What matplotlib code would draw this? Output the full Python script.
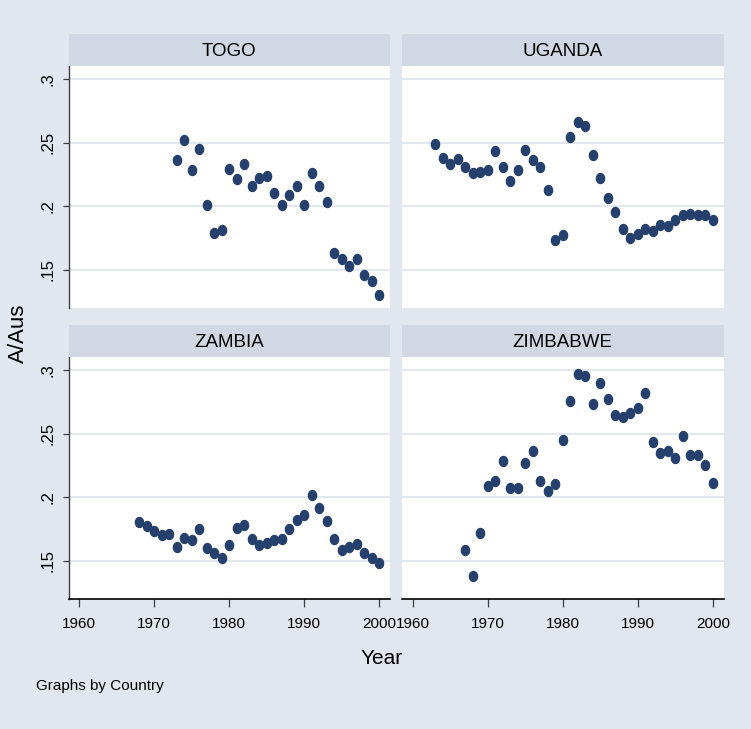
import matplotlib
matplotlib.use("Agg")
import matplotlib.pyplot as plt
import numpy as np
from matplotlib.path import Path

plt.rcParams['font.family'] = ['Liberation Sans Narrow', 'Liberation Sans', 'DejaVu Sans']

# data
togo_years = list(range(1973, 2001))
togo = [0.236, 0.252, 0.228, 0.245, 0.201, 0.179, 0.181, 0.229, 0.221, 0.233,
        0.216, 0.222, 0.224, 0.210, 0.201, 0.209, 0.216, 0.201, 0.226, 0.216,
        0.203, 0.163, 0.158, 0.153, 0.158, 0.146, 0.141, 0.130]

uganda_years = list(range(1963, 2001))
uganda = [0.249, 0.238, 0.233, 0.237, 0.231, 0.226, 0.227, 0.228, 0.243, 0.231,
          0.220, 0.228, 0.244, 0.236, 0.231, 0.213, 0.173, 0.177, 0.254, 0.266,
          0.263, 0.240, 0.222, 0.206, 0.195, 0.182, 0.175, 0.178, 0.182, 0.180,
          0.185, 0.184, 0.189, 0.193, 0.194, 0.193, 0.193, 0.189]

zambia_years = list(range(1968, 2001))
zambia = [0.180, 0.177, 0.173, 0.170, 0.171, 0.161, 0.168, 0.166, 0.175, 0.160,
          0.156, 0.152, 0.162, 0.176, 0.178, 0.167, 0.162, 0.164, 0.166, 0.167,
          0.175, 0.182, 0.186, 0.202, 0.191, 0.181, 0.167, 0.158, 0.161, 0.163,
          0.156, 0.152, 0.148]

zimbabwe_years = list(range(1967, 2001))
zimbabwe = [0.158, 0.138, 0.172, 0.209, 0.213, 0.228, 0.207, 0.207, 0.227, 0.236,
            0.213, 0.205, 0.210, 0.245, 0.276, 0.297, 0.295, 0.273, 0.290, 0.277,
            0.265, 0.263, 0.266, 0.270, 0.282, 0.243, 0.235, 0.236, 0.231, 0.248,
            0.233, 0.233, 0.225, 0.211]

countries = ['TOGO', 'UGANDA', 'ZAMBIA', 'ZIMBABWE']
xs = [togo_years, uganda_years, zambia_years, zimbabwe_years]
ys = [togo, uganda, zambia, zimbabwe]

yticks = [0.15, 0.2, 0.25, 0.3]
ytick_labels = ['.15', '.2', '.25', '.3']
xticks = [1960, 1970, 1980, 1990, 2000]
xtick_labels = ['1960', '1970', '1980', '1990', '2000']

bg = '#E1E6EF'
strip_col = '#D2D8E3'
dot_col = '#26406E'
grid_col = '#E1E6EF'

# slightly tall ellipse marker like the stata output
t = np.linspace(0, 2*np.pi, 40)
ell = Path(np.column_stack([0.82*np.cos(t), np.sin(t)]), closed=True)

W, H = 751, 729
fig = plt.figure(figsize=(W/100, H/100), dpi=100)
fig.patch.set_facecolor(bg)

lefts = [68.5, 402]
tops = [66, 357]
pw, ph = 321.5, 242
strip_h = 32

for k in range(4):
    r, c = k // 2, k % 2
    x0 = lefts[c]
    y0 = tops[r]
    ax = fig.add_axes([x0/W, 1 - (y0+ph)/H, pw/W, ph/H])
    ax.set_facecolor('white')
    ax.set_xlim(1958.6, 2001.4)
    ax.set_ylim(0.1197, 0.3103)
    ax.set_yticks(yticks)
    ax.set_xticks(xticks)
    ax.grid(axis='y', color=grid_col, lw=1.4)
    ax.set_axisbelow(True)
    for s in ax.spines.values():
        s.set_visible(False)

    ax.plot(xs[k], ys[k], ls='none', marker=ell, ms=7.2, color=dot_col, mec=dot_col)

    if c == 0:
        ax.spines['left'].set_visible(True)
        ax.spines['left'].set_color('#404040')
        ax.spines['left'].set_linewidth(1.0)
        ax.set_yticklabels(ytick_labels, rotation=90, va='center', fontsize=12)
        ax.tick_params(axis='y', length=4.5, width=0.9, color='#404040', pad=4.5)
    else:
        ax.tick_params(axis='y', length=0, labelleft=False)

    if r == 1:
        ax.spines['bottom'].set_visible(True)
        ax.spines['bottom'].set_color('black')
        ax.spines['bottom'].set_linewidth(1.2)
        ax.set_xticklabels(xtick_labels, fontsize=11)
        ax.tick_params(axis='x', length=6, width=0.9, color='#404040', pad=7)
    else:
        ax.tick_params(axis='x', length=0, labelbottom=False)

    # strip with the country name
    sax = fig.add_axes([x0/W, 1 - y0/H, pw/W, strip_h/H])
    sax.set_facecolor(strip_col)
    sax.set_xticks([])
    sax.set_yticks([])
    for s in sax.spines.values():
        s.set_visible(False)
    sax.text(0.5, 0.45, countries[k], ha='center', va='center', fontsize=13.5,
             transform=sax.transAxes)

fig.text(18/W, 1 - 333/H, 'A/Aus', rotation=90, ha='center', va='center', fontsize=16)
fig.text(382/W, 1 - 658/H, 'Year', ha='center', va='center', fontsize=15)
fig.text(36/W, 1 - 686/H, 'Graphs by Country', ha='left', va='center', fontsize=11)

fig.savefig('out.png', dpi=100, facecolor=bg)
